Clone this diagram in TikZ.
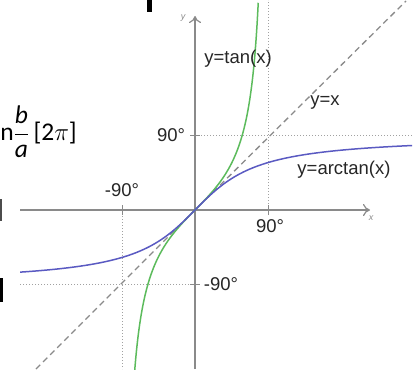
\documentclass[tikz,border=0pt]{standalone}
\usepackage{fontspec}
\setmainfont{Liberation Sans}
\newfontfamily\fracfont{Carlito}
\usepackage{tikz}
\usetikzlibrary{arrows.meta}

\definecolor{axisgray}{HTML}{8A8A8A}
\definecolor{tangreen}{HTML}{5CBB5C}
\definecolor{atanblue}{HTML}{5A5AC2}

\begin{document}
\begin{tikzpicture}[x=1pt, y=-1pt]

      \tikzset{lbl/.style = {inner sep=0pt, font=\fontsize{18.5}{20}\selectfont, text=black!85}}
      \tikzset{axis/.style = {axisgray, line width=1.6pt}}
      \tikzset{axisarrow/.style = {axis, -{To[length=7pt, width=12pt, line width=1.2pt]}}}
      \tikzset{guide/.style = {axisgray!80, line width=1pt, dotted}}
      \tikzset{diag/.style = {axisgray, line width=1.3pt, dash pattern=on 6pt off 4pt}}
      \tikzset{curve/.style = {line width=1.5pt}}
      \tikzset{tick/.style = {axisgray, line width=0.8pt}}

      \useasboundingbox (0,0) rectangle (419,369);

      % fragments of the page round the picture
      \node[inner sep=0pt, anchor=base east, font=\fracfont\fontsize{25.5}{27}\selectfont]
            (frac) at (77,140) {n$\displaystyle\frac{\textit{b}}{\textit{a}}$\,[2$\pi$]};
      \fill[black!70] (0,199) rectangle (1.5,221);
      \fill[black] (0,278) rectangle (2.5,302);
      \fill[black] (147,0) rectangle (152,12);

      % points
      \coordinate (o)  at (195,210);
      \coordinate (xl) at (20,210);
      \coordinate (xr) at (370,210);
      \coordinate (yb) at (195,369);
      \coordinate (yt) at (195,16);
      \coordinate (px) at (268,210);
      \coordinate (nx) at (122,210);
      \coordinate (py) at (195,135);
      \coordinate (ny) at (195,284);

      % guides
      \draw[guide] (py) -- (412,135);
      \draw[guide] (px) -- (268,0);
      \draw[guide] (ny) -- (20,284);
      \draw[guide] (nx) -- (122,369);
      \draw[diag] (36,369) -- (o) -- (406,1);

      % axes
      \draw[axisarrow] (xl) -- (xr);
      \draw[axisarrow] (yb) -- (yt);
      \foreach \p in {px,nx} \draw[tick] ([yshift=-5pt]\p) -- ([yshift=5pt]\p);
      \foreach \p in {py,ny} \draw[tick] ([xshift=-5pt]\p) -- ([xshift=5pt]\p);

      % curves
      \draw[curve, tangreen] plot[domain=-1.282:1.347, samples=120, smooth]
            ({195+47*\x},{210-47.5*tan(\x r)});
      \draw[curve, atanblue] plot[domain=-3.72:4.62, samples=80, smooth]
            ({195+47*\x},{210-47.5*rad(atan(\x))});

      % labels
      \node[lbl] (tanl)  at (238,59)  {y=tan(x)};
      \node[lbl] (idl)   at (325,103) {y=x};
      \node[lbl] (atanl) at (344,170) {y=arctan(x)};
      \node[lbl] (pyl)   at (171,135) {90°};
      \node[lbl] (nyl)   at (221,284) {-90°};
      \node[lbl] (nxl)   at (122,190) {-90°};
      \node[lbl] (pxl)   at (270,226) {90°};
      \node[inner sep=0pt, text=axisgray, font=\fontsize{9}{10}\selectfont\itshape] (xn) at (371,218) {x};
      \node[inner sep=0pt, text=axisgray, font=\fontsize{9}{10}\selectfont\itshape] (yn) at (183,18) {y};

\end{tikzpicture}
\end{document}
